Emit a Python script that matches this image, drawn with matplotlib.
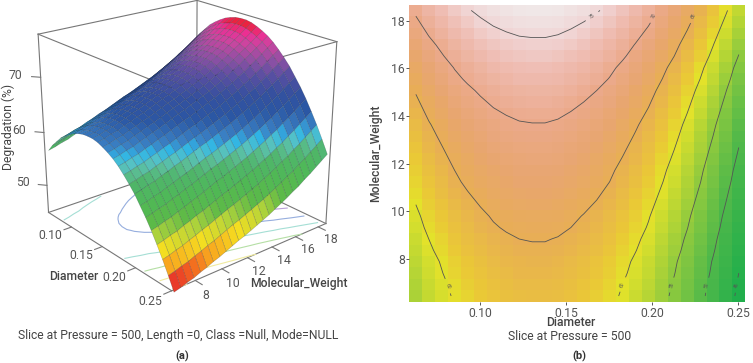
import matplotlib
matplotlib.use('Agg')
import matplotlib.pyplot as plt
import numpy as np
from matplotlib.colors import LinearSegmentedColormap, Normalize

plt.rcParams['font.family'] = ['Roboto', 'DejaVu Sans']

diameter = [0.0628, 0.0703, 0.0778, 0.0853, 0.0928, 0.1003, 0.1078, 0.1153, 0.1228, 0.1303, 0.1378, 0.1453, 0.1528,
            0.1603, 0.1678, 0.1753, 0.1828, 0.1903, 0.1978, 0.2053, 0.2128, 0.2203, 0.2278, 0.2353, 0.2428, 0.2503]
mol_weight = [6.45, 6.93, 7.41, 7.89, 8.37, 8.84, 9.32, 9.80, 10.28, 10.76, 11.24, 11.72, 12.20,
              12.68, 13.15, 13.63, 14.11, 14.59, 15.07, 15.55, 16.03, 16.51, 16.99, 17.47, 17.95, 18.43]

# degradation, one row per molecular weight
degradation = [
    [56.7,58.1,59.2,60.3,61.1,61.8,62.4,62.8,63.1,63.2,63.2,63.0,62.6,62.1,61.5,60.7,59.7,58.6,57.4,55.9,54.4,52.7,50.8,48.8,46.6,44.3],
    [57.0,58.4,59.5,60.6,61.4,62.1,62.7,63.1,63.4,63.5,63.5,63.3,62.9,62.4,61.8,61.0,60.0,58.9,57.7,56.2,54.7,53.0,51.1,49.1,46.9,44.6],
    [57.4,58.8,59.9,61.0,61.8,62.5,63.1,63.5,63.8,63.9,63.9,63.7,63.3,62.8,62.2,61.4,60.4,59.3,58.1,56.6,55.1,53.4,51.5,49.5,47.3,45.0],
    [57.7,59.1,60.2,61.3,62.1,62.8,63.4,63.8,64.1,64.2,64.2,64.0,63.6,63.1,62.5,61.7,60.7,59.6,58.4,56.9,55.4,53.7,51.8,49.8,47.6,45.3],
    [58.2,59.6,60.7,61.8,62.6,63.3,63.9,64.3,64.6,64.7,64.7,64.5,64.1,63.6,63.0,62.2,61.2,60.1,58.9,57.4,55.9,54.2,52.3,50.3,48.1,45.8],
    [58.6,60.0,61.1,62.2,63.0,63.7,64.3,64.7,65.0,65.1,65.1,64.9,64.5,64.0,63.4,62.6,61.6,60.5,59.3,57.8,56.3,54.6,52.7,50.7,48.5,46.2],
    [59.1,60.5,61.6,62.7,63.5,64.2,64.8,65.2,65.5,65.6,65.6,65.4,65.0,64.5,63.9,63.1,62.1,61.0,59.8,58.3,56.8,55.1,53.2,51.2,49.0,46.7],
    [59.5,60.9,62.0,63.1,63.9,64.6,65.2,65.6,65.9,66.0,66.0,65.8,65.4,64.9,64.3,63.5,62.5,61.4,60.2,58.7,57.2,55.5,53.6,51.6,49.4,47.1],
    [60.0,61.4,62.5,63.6,64.4,65.1,65.7,66.1,66.4,66.5,66.5,66.3,65.9,65.4,64.8,64.0,63.0,61.9,60.7,59.2,57.7,56.0,54.1,52.1,49.9,47.6],
    [60.5,61.9,63.0,64.1,64.9,65.6,66.2,66.6,66.9,67.0,67.0,66.8,66.4,65.9,65.3,64.5,63.5,62.4,61.2,59.7,58.2,56.5,54.6,52.6,50.4,48.1],
    [61.0,62.4,63.5,64.6,65.4,66.1,66.7,67.1,67.4,67.5,67.5,67.3,66.9,66.4,65.8,65.0,64.0,62.9,61.7,60.2,58.7,57.0,55.1,53.1,50.9,48.6],
    [61.4,62.8,63.9,65.0,65.8,66.5,67.1,67.5,67.8,67.9,67.9,67.7,67.3,66.8,66.2,65.4,64.4,63.3,62.1,60.6,59.1,57.4,55.5,53.5,51.3,49.0],
    [61.9,63.3,64.4,65.5,66.3,67.0,67.6,68.0,68.3,68.4,68.4,68.2,67.8,67.3,66.7,65.9,64.9,63.8,62.6,61.1,59.6,57.9,56.0,54.0,51.8,49.5],
    [62.4,63.8,64.9,66.0,66.8,67.5,68.1,68.5,68.8,68.9,68.9,68.7,68.3,67.8,67.2,66.4,65.4,64.3,63.1,61.6,60.1,58.4,56.5,54.5,52.3,50.0],
    [62.9,64.3,65.4,66.5,67.3,68.0,68.6,69.0,69.3,69.4,69.4,69.2,68.8,68.3,67.7,66.9,65.9,64.8,63.6,62.1,60.6,58.9,57.0,55.0,52.8,50.5],
    [63.4,64.8,65.9,67.0,67.8,68.5,69.1,69.5,69.8,69.9,69.9,69.7,69.3,68.8,68.2,67.4,66.4,65.3,64.1,62.6,61.1,59.4,57.5,55.5,53.3,51.0],
    [64.0,65.4,66.5,67.6,68.4,69.1,69.7,70.1,70.4,70.5,70.5,70.3,69.9,69.4,68.8,68.0,67.0,65.9,64.7,63.2,61.7,60.0,58.1,56.1,53.9,51.6],
    [64.6,66.0,67.1,68.2,69.0,69.7,70.3,70.7,71.0,71.1,71.1,70.9,70.5,70.0,69.4,68.6,67.6,66.5,65.3,63.8,62.3,60.6,58.7,56.7,54.5,52.2],
    [65.2,66.6,67.7,68.8,69.6,70.3,70.9,71.3,71.6,71.7,71.7,71.5,71.1,70.6,70.0,69.2,68.2,67.1,65.9,64.4,62.9,61.2,59.3,57.3,55.1,52.8],
    [65.9,67.3,68.4,69.5,70.3,71.0,71.6,72.0,72.3,72.4,72.4,72.2,71.8,71.3,70.7,69.9,68.9,67.8,66.6,65.1,63.6,61.9,60.0,58.0,55.8,53.5],
    [66.5,67.9,69.0,70.1,70.9,71.6,72.2,72.6,72.9,73.0,73.0,72.8,72.4,71.9,71.3,70.5,69.5,68.4,67.2,65.7,64.2,62.5,60.6,58.6,56.4,54.1],
    [67.3,68.7,69.8,70.9,71.7,72.4,73.0,73.4,73.7,73.8,73.8,73.6,73.2,72.7,72.1,71.3,70.3,69.2,68.0,66.5,65.0,63.3,61.4,59.4,57.2,54.9],
    [68.0,69.4,70.5,71.6,72.4,73.1,73.7,74.1,74.4,74.5,74.5,74.3,73.9,73.4,72.8,72.0,71.0,69.9,68.7,67.2,65.7,64.0,62.1,60.1,57.9,55.6],
    [68.8,70.2,71.3,72.4,73.2,73.9,74.5,74.9,75.2,75.3,75.3,75.1,74.7,74.2,73.6,72.8,71.8,70.7,69.5,68.0,66.5,64.8,62.9,60.9,58.7,56.4],
    [69.6,71.0,72.1,73.2,74.0,74.7,75.3,75.7,76.0,76.1,76.1,75.9,75.5,75.0,74.4,73.6,72.6,71.5,70.3,68.8,67.3,65.6,63.7,61.7,59.5,57.2],
    [70.4,71.8,72.9,74.0,74.8,75.5,76.1,76.5,76.8,76.9,76.9,76.7,76.3,75.8,75.2,74.4,73.4,72.3,71.1,69.6,68.1,66.4,64.5,62.5,60.3,58.0],
]

contour_levels = [45, 50, 55, 60, 65, 70, 75]
floor_colors = ['#f5dfa0', '#f0eba0', '#b5dfa5', '#a5dfd5', '#96aede', '#b9a0d8', '#e8a0c8']
surf_nodes = [44, 45.5, 46.5, 47.7, 49.8, 51.7, 53.5, 56, 58.5, 59.7, 60.7, 61.7, 62.6, 65, 67.5, 70, 72, 74, 75.3, 76.4, 78]
surf_colors = ['#e8352a', '#e8352a', '#f2661f', '#f8a51f', '#f5de20', '#b4d43a', '#5dba47', '#4fb856', '#4fb56a', '#5bbd93', '#55c2c6',
               '#2fb5e6', '#3a80c4', '#2b57a4', '#34509f', '#5a4fa2', '#8f50a4', '#c946a0', '#ec2f95', '#ea2340', '#ea2340']
heat_nodes = [44, 50, 55, 60, 62, 65, 67.5, 70, 73, 75, 78]
heat_colors = ['#1fae4b', '#4fb84a', '#8fca3e', '#e3e22a', '#eac737', '#e8ae55', '#e8a66f', '#eba98a', '#efbdb4', '#f0d6d6', '#f0f0f0']

d_ticks = [0.10, 0.15, 0.20, 0.25]
mw_ticks = [8, 10, 12, 14, 16, 18]
z_ticks = [50, 60, 70]

D, M = np.meshgrid(diameter, mol_weight)
Z = np.array(degradation)
GRAY = '#555555'
LINE = '#777777'
TXT = '#444444'

fig = plt.figure(figsize=(7.53, 3.63), dpi=100)

# (a) surface
ax = fig.add_axes([-0.045, 0.125, 0.57, 1.0], projection='3d', computed_zorder=False)
ax.set_proj_type('persp', focal_length=0.5)
ax.view_init(elev=22, azim=-40)
ax.set_box_aspect((1, 1, 0.95), zoom=0.93)
x0, x1, y0, y1, z0, z1 = 0.06, 0.25, 6.3, 18.7, 44.7, 77.5
ax.set_xlim(x0, x1)
ax.set_ylim(y0, y1)
ax.set_zlim(z0, z1)
ax.set_axis_off()

# box edges
edges = [((x0, y0, z0), (x1, y0, z0)), ((x1, y0, z0), (x1, y1, z0)), ((x0, y0, z0), (x0, y1, z0)),
         ((x0, y1, z0), (x1, y1, z0)), ((x0, y0, z0), (x0, y0, z1)), ((x1, y1, z0), (x1, y1, z1)),
         ((x0, y1, z0), (x0, y1, z1)), ((x0, y0, z1), (x0, y1, z1)), ((x0, y1, z1), (x1, y1, z1)),
         ((x0, y0, z1), (x1, y0, z1)), ((x1, y0, z1), (x1, y1, z1))]
for a, b in edges:
    ax.plot(*zip(a, b), color=LINE, lw=0.8, zorder=1)

ax.contour(D, M, Z, levels=contour_levels, colors=floor_colors, linewidths=0.8, zdir='z', offset=z0, zorder=2)

surf_norm = Normalize(surf_nodes[0], surf_nodes[-1])
surf_cmap = LinearSegmentedColormap.from_list('surf', [(surf_norm(n), c) for n, c in zip(surf_nodes, surf_colors)])
cell_z = (Z[:-1, :-1] + Z[1:, :-1] + Z[:-1, 1:] + Z[1:, 1:]) / 4
ax.plot_surface(D, M, Z, rstride=1, cstride=1, facecolors=surf_cmap(surf_norm(cell_z)), shade=False,
                edgecolor=(0.05, 0.1, 0.15, 0.3), linewidth=0.35, zorder=3)

for t in d_ticks:
    ax.plot([t, t], [y0, y0 - 0.55], [z0, z0], color=LINE, lw=0.8, zorder=1)
    ax.text(t + 0.002, y0 - 1.6, z0, f'{t:.2f}', color=GRAY, fontsize=8.8, ha='center', va='center')
for t in mw_ticks:
    ax.plot([x1, x1 + 0.009], [t, t], [z0, z0], color=LINE, lw=0.8, zorder=1)
    ax.text(x1 + 0.024, t - 0.6, z0, str(t), color=GRAY, fontsize=8.8, ha='center', va='center')
for t in z_ticks:
    ax.plot([x0, x0 - 0.007], [y0, y0 - 0.35], [t, t], color=LINE, lw=0.8, zorder=1)
    ax.text(x0 - 0.02, y0 - 0.95, t, str(t), color=GRAY, fontsize=8.8, ha='center', va='center')

fig.text(8 / 753, 1 - 127 / 363, 'Degradation (%)', rotation=90, color=TXT, fontsize=8.7, ha='center', va='center')
fig.text(74 / 753, 1 - 277 / 363, 'Diameter', color=TXT, fontsize=8.7, fontweight='medium', ha='center', va='center')
fig.text(299 / 753, 1 - 284 / 363, 'Molecular_Weight', color=TXT, fontsize=8.7, fontweight='medium', ha='center', va='center')
fig.text(178 / 753, 1 - 336 / 363, 'Slice at Pressure = 500, Length =0, Class =Null, Mode=NULL', color=TXT,
         fontsize=8.7, ha='center', va='center')
fig.text(182 / 753, 1 - 356 / 363, '(a)', color='#333333', fontsize=8, fontweight='bold', ha='center', va='center')

# (b) heat map with contours
ax2 = fig.add_axes([409.5 / 753, 1 - 301.7 / 363, 335.5 / 753, 298.2 / 363])
heat_norm = Normalize(heat_nodes[0], heat_nodes[-1])
heat_cmap = LinearSegmentedColormap.from_list('heat', [(heat_norm(n), c) for n, c in zip(heat_nodes, heat_colors)])
ax2.pcolormesh(D, M, Z, cmap=heat_cmap, norm=heat_norm, shading='nearest')
cs = ax2.contour(D, M, Z, levels=contour_levels, colors='#555555', linewidths=0.6)
ax2.clabel(cs, fmt='%d', fontsize=3.5, inline=True,
           manual=[(0.165, 18.2), (0.201, 18.2), (0.224, 18.2), (0.083, 6.9), (0.184, 6.9), (0.212, 6.9), (0.232, 6.9), (0.2495, 6.9)])
ax2.set_xlim(0.0591, 0.2539)
ax2.set_ylim(6.21, 18.72)
ax2.set_xticks(d_ticks, [f'{t:.2f}' for t in d_ticks])
ax2.set_yticks(mw_ticks)
ax2.tick_params(colors=GRAY, labelsize=8.8, length=2.5, width=0.7, pad=1)
for s in ax2.spines.values():
    s.set_visible(False)
fig.text(571 / 753, 1 - 323 / 363, 'Diameter', color=TXT, fontsize=8.7, fontweight='medium', ha='center', va='center')
fig.text(570 / 753, 1 - 336 / 363, 'Slice at Pressure = 500', color=TXT, fontsize=8.7, ha='center', va='center')
fig.text(579 / 753, 1 - 356 / 363, '(b)', color='#333333', fontsize=8, fontweight='bold', ha='center', va='center')
fig.text(376 / 753, 1 - 153 / 363, 'Molecular_Weight', rotation=90, color=TXT, fontsize=8.7, fontweight='medium', ha='center', va='center')

fig.savefig('out.png', dpi=100)
